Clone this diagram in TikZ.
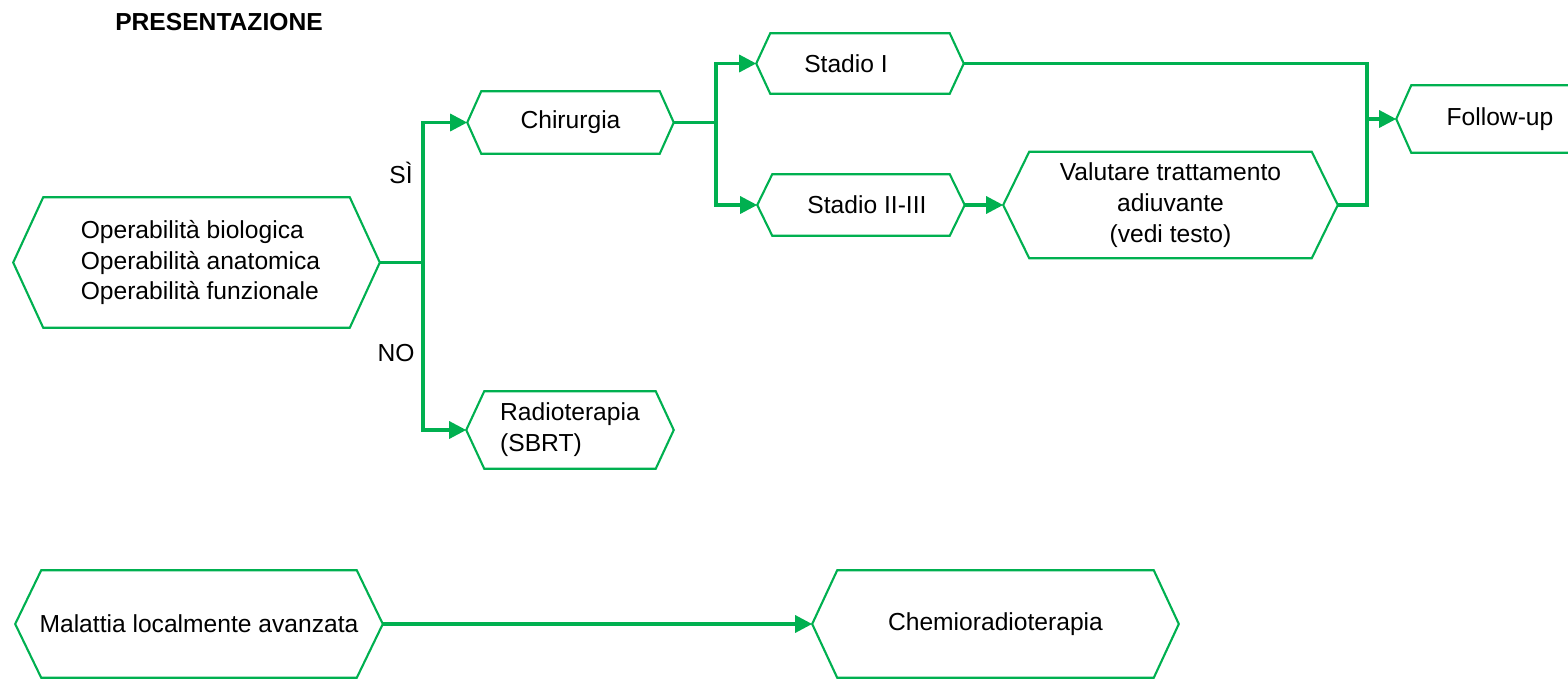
\documentclass[tikz,border=0pt]{standalone}
\usepackage{fontspec}
\setmainfont{Liberation Sans}
\usetikzlibrary{arrows.meta}
\definecolor{ocgreen}{RGB}{0,176,80}
\tikzset{
  hexbox/.style 2 args={minimum width=#1cm, minimum height=#2cm, inner sep=0pt,
    font=\fontsize{7}{8.8}\selectfont, align=center},
  hexline/.style={draw=ocgreen, line width=0.6pt, line join=miter},
  flow/.style={draw=ocgreen, line width=0.9pt, -{Triangle[length=0.17cm,width=0.17cm]}},
  link/.style={draw=ocgreen, line width=0.9pt},
  lbl/.style={font=\fontsize{7}{8.8}\selectfont, inner sep=0pt}
}
\begin{document}
\begin{tikzpicture}[x=0.01cm, y=-0.01cm]
	\useasboundingbox (0,0) rectangle (1568,678);
	\clip (0,0) rectangle (1568,678);
	\node[lbl, font=\fontsize{7}{8.8}\selectfont\bfseries] (title) at (219,22) {PRESENTAZIONE};
	\node[hexbox={3.65}{1.29}, align=left] (oper) at (196.5,262.5) {\hspace{0.08cm}Operabilità biologica\\\hspace{0.08cm}Operabilità anatomica\\\hspace{0.08cm}Operabilità funzionale};
	\node[hexbox={2.05}{0.61}] (chir) at (570.5,122.5) {Chirurgia};
	\node[hexbox={2.06}{0.76}, align=left] (radio) at (570,430) {Radioterapia\\(SBRT)};
	\node[hexbox={2.06}{0.59}] (st1) at (860,63.5) {Stadio I\hspace{0.28cm}};
	\node[hexbox={2.06}{0.60}] (st23) at (861,205) {\hspace{0.12cm}Stadio II-III};
	\node[hexbox={3.33}{1.05}] (valut) at (1170.5,205) {Valutare trattamento\\adiuvante\\(vedi testo)};
	\node[hexbox={2.06}{0.66}] (follow) at (1500,119) {Follow-up};
	\node[hexbox={3.66}{1.06}] (mal) at (199,624) {Malattia localmente avanzata};
	\node[hexbox={3.65}{1.06}] (chemo) at (995.5,624) {Chemioradioterapia};
	\foreach \n/\d in {oper/0.30, chir/0.14, radio/0.18, st1/0.14, st23/0.15, valut/0.26, follow/0.15, mal/0.26, chemo/0.25}
		\draw[hexline] (\n.west) -- ([xshift=\d cm]\n.north west) -- ([xshift=-\d cm]\n.north east)
		-- (\n.east) -- ([xshift=-\d cm]\n.south east) -- ([xshift=\d cm]\n.south west) -- cycle;
	\node[lbl] (yes) at (401,173) {SÌ};
	\node[lbl] (no) at (396,353) {NO};
	\coordinate (j1) at (423,262.5);
	\coordinate (j2) at (716,122.5);
	\coordinate (j3) at (1367,119);
	\draw[link] (oper.east) -- (j1);
	\draw[flow] (j1) |- (chir.west);
	\draw[flow] (j1) |- (radio.west);
	\draw[link] (chir.east) -- (j2);
	\draw[flow] (j2) |- (st1.west);
	\draw[flow] (j2) |- (st23.west);
	\draw[flow] (st23.east) -- (valut.west);
	\draw[link] (st1.east) -| (j3);
	\draw[link] (valut.east) -| (j3);
	\draw[flow] (j3) -- (follow.west);
	\draw[flow] (mal.east) -- (chemo.west);
\end{tikzpicture}
\end{document}
